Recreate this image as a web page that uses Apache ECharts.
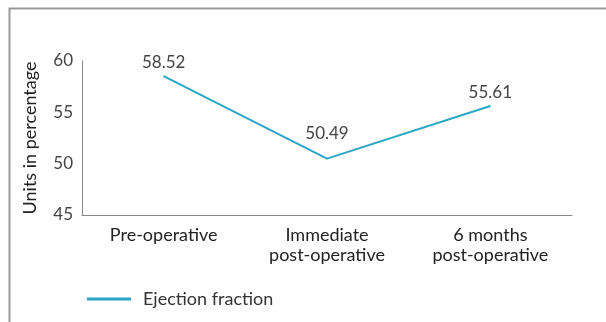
<!DOCTYPE html>
<html>
<head>
<meta charset="utf-8">
<style>html,body{margin:0;padding:0;background:#fff}#c{width:606px;height:322px}</style>
<script src="https://cdn.jsdelivr.net/npm/echarts@6/dist/echarts.min.js"></script>
</head>
<body>
<div id="c"></div>
<script>
const categories = ['Pre-operative', 'Immediate\npost-operative', '6 months\npost-operative'];
const ejectionFraction = [58.52, 50.49, 55.61];
const seriesName = 'Ejection fraction';
const yTicks = [45, 50, 55, 60];

const chart = echarts.init(document.getElementById('c'), null, {renderer: 'canvas'});
const font = 'Lato, "Open Sans", sans-serif';
chart.setOption({
  animation: false,
  textStyle: {fontFamily: font},
  graphic: [{
    type: 'rect', left: 7, top: 6, silent: true,
    shape: {width: 700, height: 400},
    style: {fill: 'none', stroke: '#9a9a9a', lineWidth: 2}
  }],
  grid: {left: 82, right: 34, top: 61, bottom: 107, containLabel: false},
  legend: {
    left: 82, top: 285, icon: 'rect', itemWidth: 44, itemHeight: 3, itemGap: 10,
    textStyle: {fontSize: 18, color: '#333', fontFamily: font, padding: [0, 0, 0, 7]},
    data: [seriesName]
  },
  xAxis: {
    type: 'category', data: categories, boundaryGap: true,
    axisLine: {lineStyle: {color: '#888', width: 1}},
    axisTick: {show: false},
    axisLabel: {color: '#222', fontSize: 18, lineHeight: 20, margin: 10, fontFamily: font, interval: 0}
  },
  yAxis: {
    type: 'value', min: yTicks[0], max: yTicks[yTicks.length - 1], interval: 5,
    name: 'Units in percentage', nameLocation: 'middle', nameGap: 43, nameRotate: 90,
    nameTextStyle: {fontSize: 18, color: '#222', fontFamily: font},
    axisLine: {show: true, lineStyle: {color: '#888', width: 1}},
    axisTick: {show: false},
    splitLine: {show: false},
    axisLabel: {color: '#444', fontSize: 17, margin: 9, fontFamily: font}
  },
  series: [{
    name: seriesName, type: 'line',
    data: ejectionFraction.map((v, i) => i === 1 ? {value: v, label: {distance: 16}} : v),
    symbol: 'circle', symbolSize: 1, showSymbol: true,
    lineStyle: {color: '#2aa6c4', width: 2},
    itemStyle: {color: '#2aa6c4'},
    label: {show: true, position: 'top', distance: 5, color: '#444', fontSize: 17, fontFamily: font,
      formatter: p => p.value.toFixed(2)}
  }]
});
</script>
</body>
</html>
